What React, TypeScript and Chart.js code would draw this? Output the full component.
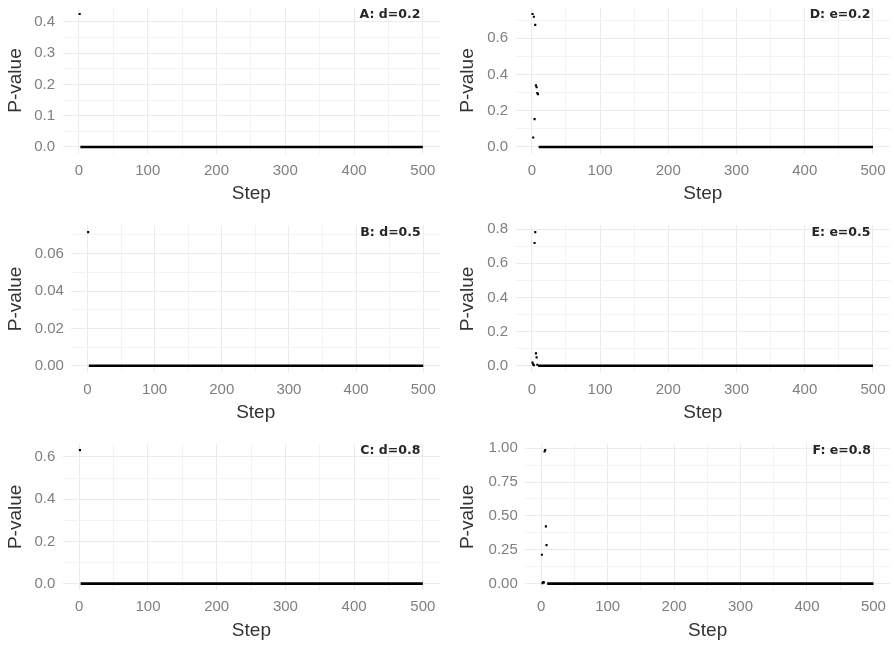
import React, { useEffect, useRef } from "react";
import { Chart, registerables } from "chart.js";

Chart.register(...registerables);

// ---------------------------------------------------------------------------
// Data: p-value per step for six simulation settings (A–C vary d, D–F vary e)
// ---------------------------------------------------------------------------
const lastStep = 500;

// Early steps, before each run collapses onto zero
const stepsA = [1];
const pValuesA = [0.425];

const stepsB = [1];
const pValuesB = [0.0715];

const stepsC = [1];
const pValuesC = [0.632];

const stepsD = [1, 2, 3, 4, 5, 6, 7, 8, 9];
const pValuesD = [0.734, 0.052, 0.719, 0.154, 0.674, 0.34, 0.33, 0.297, 0.292];

const stepsE = [1, 2, 3, 4, 5, 6, 7, 8];
const pValuesE = [0.018, 0.008, 0.003, 0.719, 0.782, 0.072, 0.049, 0.006];

const stepsF = [1, 2, 3, 4, 5, 6, 7, 8];
const pValuesF = [0.213, 0.004, 0.012, 0.008, 0.975, 0.985, 0.423, 0.284];

// From this step to the last one every p-value sits on zero
const plateauStarts = [2, 2, 2, 10, 9, 9];
const plateauLevel = 0;

const panelLabels = ["A: d=0.2", "B: d=0.5", "C: d=0.8", "D: e=0.2", "E: e=0.5", "F: e=0.8"];

// Tick labels
const xMajorTicks = [0, 100, 200, 300, 400, 500];
const xMinorTicks = [50, 150, 250, 350, 450];

const yMajorA = [0, 0.1, 0.2, 0.3, 0.4];
const yMinorA = [0.05, 0.15, 0.25, 0.35];
const yMajorB = [0, 0.02, 0.04, 0.06];
const yMinorB = [0.01, 0.03, 0.05, 0.07];
const yMajorC = [0, 0.2, 0.4, 0.6];
const yMinorC = [0.1, 0.3, 0.5];
const yMajorD = [0, 0.2, 0.4, 0.6];
const yMinorD = [0.1, 0.3, 0.5, 0.7];
const yMajorE = [0, 0.2, 0.4, 0.6, 0.8];
const yMinorE = [0.1, 0.3, 0.5, 0.7];
const yMajorF = [0, 0.25, 0.5, 0.75, 1];
const yMinorF = [0.125, 0.375, 0.625, 0.875];
const yDecimals = [1, 2, 1, 1, 1, 2];

// ---------------------------------------------------------------------------
// Layout
// ---------------------------------------------------------------------------
const PAGE_W = 894;
const PAGE_H = 647;
const COL_LEFT = [0, 447];
const COL_WIDTH = 447;
const COL_PLOT_RIGHT = [440, 894];
const ROW_PLOT_TOP = [7.4, 225.5, 443.5];
const ROW_PLOT_BOTTOM = [153.6, 372.4, 590.3];
const X_AXIS_HEIGHT = 52;
const Y_TITLE_PAD = [4.8, 9.1];

const AXIS_FONT = "'Liberation Sans', Arial, sans-serif";
const TICK_COLOR = "#7f7f7f";
const TITLE_COLOR = "#333333";
const GRID_MAJOR = "#ebebeb";
const GRID_MINOR = "#f3f3f3";

type PanelSpec = {
  label: string;
  steps: number[];
  pValues: number[];
  plateauStart: number;
  yMajor: number[];
  yMinor: number[];
  decimals: number;
  col: number;
  row: number;
  plotLeft: number;
};

const panels: PanelSpec[] = [
  { label: panelLabels[0], steps: stepsA, pValues: pValuesA, plateauStart: plateauStarts[0], yMajor: yMajorA, yMinor: yMinorA, decimals: yDecimals[0], col: 0, row: 0, plotLeft: 62.5 },
  { label: panelLabels[1], steps: stepsB, pValues: pValuesB, plateauStart: plateauStarts[1], yMajor: yMajorB, yMinor: yMinorB, decimals: yDecimals[1], col: 0, row: 1, plotLeft: 71.4 },
  { label: panelLabels[2], steps: stepsC, pValues: pValuesC, plateauStart: plateauStarts[2], yMajor: yMajorC, yMinor: yMinorC, decimals: yDecimals[2], col: 0, row: 2, plotLeft: 62.8 },
  { label: panelLabels[3], steps: stepsD, pValues: pValuesD, plateauStart: plateauStarts[3], yMajor: yMajorD, yMinor: yMinorD, decimals: yDecimals[3], col: 1, row: 0, plotLeft: 515.5 },
  { label: panelLabels[4], steps: stepsE, pValues: pValuesE, plateauStart: plateauStarts[4], yMajor: yMajorE, yMinor: yMinorE, decimals: yDecimals[4], col: 1, row: 1, plotLeft: 515.5 },
  { label: panelLabels[5], steps: stepsF, pValues: pValuesF, plateauStart: plateauStarts[5], yMajor: yMajorF, yMinor: yMinorF, decimals: yDecimals[5], col: 1, row: 2, plotLeft: 525.3 },
];

// Bold tag in the top-right corner of each panel
const panelLabelPlugin = {
  id: "panelLabel",
  afterDatasetsDraw(chart: any, _args: any, opts: any) {
    const { ctx, chartArea, scales } = chart;
    ctx.save();
    ctx.font = "bold 12.5px 'DejaVu Sans', sans-serif";
    ctx.fillStyle = "#262626";
    ctx.textAlign = "right";
    ctx.textBaseline = "top";
    ctx.fillText(opts.text, scales.x.getPixelForValue(lastStep) - 2.5, chartArea.top + 1);
    ctx.restore();
  },
};

function Panel({ spec }: { spec: PanelSpec }) {
  const ref = useRef<HTMLCanvasElement | null>(null);

  const canvasLeft = COL_LEFT[spec.col];
  const plotTop = ROW_PLOT_TOP[spec.row];
  const plotBottom = ROW_PLOT_BOTTOM[spec.row];
  const canvasTop = Math.floor(plotTop) - 4;
  const padTop = plotTop - canvasTop;
  const canvasHeight = Math.ceil(plotBottom - canvasTop + X_AXIS_HEIGHT);
  const padBottom = canvasHeight - (plotBottom - canvasTop) - X_AXIS_HEIGHT;
  const padRight = canvasLeft + COL_WIDTH - COL_PLOT_RIGHT[spec.col];
  const yAxisWidth = spec.plotLeft - canvasLeft;

  useEffect(() => {
    const canvas = ref.current;
    if (!canvas) return;

    const maxP = Math.max(...spec.pValues, plateauLevel);
    const minP = Math.min(...spec.pValues, plateauLevel);
    const ySpan = maxP - minP;
    const firstStep = Math.min(...spec.steps);
    const xSpan = lastStep - firstStep;

    const xMajorSet = new Set(xMajorTicks);
    const yMajorSet = new Set(spec.yMajor);
    const xAll = [...xMajorTicks, ...xMinorTicks].sort((a, b) => a - b);
    const yAll = [...spec.yMajor, ...spec.yMinor].sort((a, b) => a - b);

    const chart = new Chart(canvas, {
      type: "scatter",
      data: {
        datasets: [
          {
            type: "line",
            data: [
              { x: spec.plateauStart, y: plateauLevel },
              { x: lastStep, y: plateauLevel },
            ],
            borderColor: "#000000",
            borderWidth: 2.6,
            borderCapStyle: "butt",
            pointRadius: 0,
            fill: false,
          },
          {
            type: "scatter",
            data: spec.steps.map((s, i) => ({ x: s, y: spec.pValues[i] })),
            pointStyle: "rect",
            pointRadius: 1.5,
            backgroundColor: "#000000",
            borderWidth: 0,
          },
        ] as any,
      },
      options: {
        responsive: false,
        animation: false,
        events: [],
        layout: {
          padding: { top: padTop, bottom: padBottom, left: 0, right: padRight },
        },
        plugins: {
          legend: { display: false },
          tooltip: { enabled: false },
          panelLabel: { text: spec.label },
        } as any,
        scales: {
          x: {
            type: "linear",
            min: firstStep - 0.05 * xSpan,
            max: lastStep + 0.05 * xSpan,
            afterBuildTicks: (s: any) => {
              s.ticks = xAll.map((v) => ({ value: v }));
            },
            afterFit: (s: any) => {
              s.height = X_AXIS_HEIGHT;
              s.paddingLeft = 0;
              s.paddingRight = 0;
            },
            border: { display: false },
            grid: {
              drawTicks: false,
              color: (c: any) => (xMajorSet.has(c.tick?.value) ? GRID_MAJOR : GRID_MINOR),
              lineWidth: 1,
            },
            ticks: {
              autoSkip: false,
              maxRotation: 0,
              padding: 8,
              color: TICK_COLOR,
              font: { family: AXIS_FONT, size: 15 },
              callback: (v: any) => (xMajorSet.has(v) ? String(v) : ""),
            },
            title: {
              display: true,
              text: "Step",
              color: TITLE_COLOR,
              font: { family: AXIS_FONT, size: 19 },
              padding: { top: 0, bottom: 0.6 },
            },
          },
          y: {
            type: "linear",
            min: minP - 0.05 * ySpan,
            max: maxP + 0.05 * ySpan,
            afterBuildTicks: (s: any) => {
              s.ticks = yAll.map((v) => ({ value: v }));
            },
            afterFit: (s: any) => {
              s.width = yAxisWidth;
              s.paddingTop = 0;
              s.paddingBottom = 0;
            },
            border: { display: false },
            grid: {
              drawTicks: false,
              color: (c: any) => (yMajorSet.has(c.tick?.value) ? GRID_MAJOR : GRID_MINOR),
              lineWidth: 1,
            },
            ticks: {
              autoSkip: false,
              padding: 7.5,
              color: TICK_COLOR,
              font: { family: AXIS_FONT, size: 15 },
              callback: (v: any) => (yMajorSet.has(v) ? Number(v).toFixed(spec.decimals) : ""),
            },
            title: {
              display: true,
              text: "P-value",
              color: TITLE_COLOR,
              font: { family: AXIS_FONT, size: 19 },
              padding: { top: Y_TITLE_PAD[spec.col], bottom: 0 },
            },
          },
        },
      } as any,
      plugins: [panelLabelPlugin as any],
    });

    return () => chart.destroy();
  }, [spec]);

  return (
    <canvas
      ref={ref}
      width={COL_WIDTH}
      height={canvasHeight}
      style={{
        position: "absolute",
        left: canvasLeft,
        top: canvasTop,
        width: COL_WIDTH,
        height: canvasHeight,
      }}
    />
  );
}

export default function App() {
  return (
    <div
      style={{
        position: "fixed",
        left: 0,
        top: 0,
        width: PAGE_W,
        height: PAGE_H,
        background: "#ffffff",
        overflow: "hidden",
      }}
    >
      {panels.map((p) => (
        <Panel key={p.label} spec={p} />
      ))}
    </div>
  );
}
